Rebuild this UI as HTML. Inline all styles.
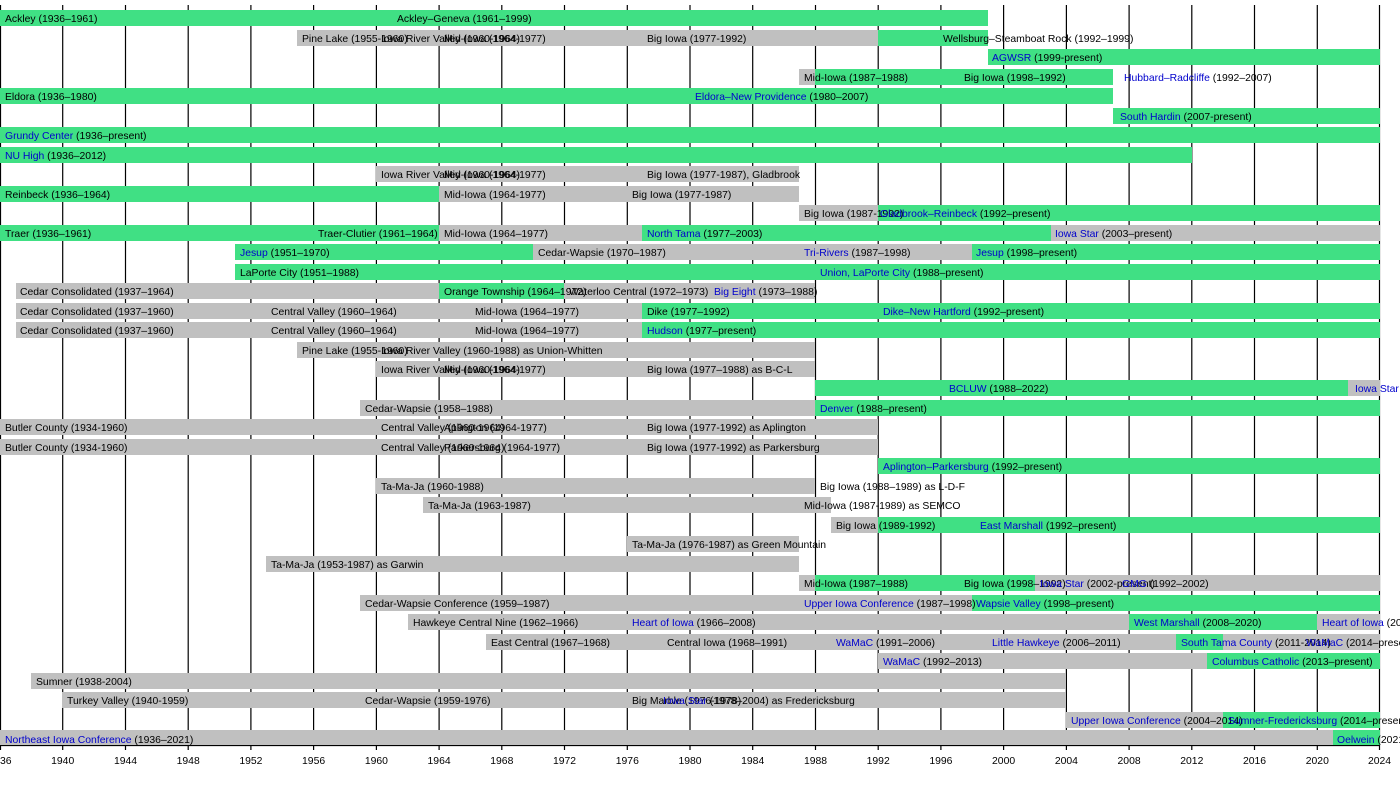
<!DOCTYPE html>
<html><head><meta charset="utf-8"><style>
html,body{margin:0;padding:0;background:#fff;overflow:hidden}
svg{display:block}
text{font-family:"Liberation Sans",Arial,sans-serif;font-size:10.4px;fill:#000}
.b{fill:#0000cc}
.g{fill:#40e084}
.r{fill:#c0c0c0}
</style></head><body>
<svg width="1400" height="795" viewBox="0 0 1400 795" xmlns="http://www.w3.org/2000/svg">
<g stroke="#000" stroke-width="1.2">
<line x1="0.5" y1="5" x2="0.5" y2="750"/>
<line x1="62.7" y1="5" x2="62.7" y2="750"/>
<line x1="125.5" y1="5" x2="125.5" y2="750"/>
<line x1="188.2" y1="5" x2="188.2" y2="750"/>
<line x1="250.9" y1="5" x2="250.9" y2="750"/>
<line x1="313.6" y1="5" x2="313.6" y2="750"/>
<line x1="376.4" y1="5" x2="376.4" y2="750"/>
<line x1="439.1" y1="5" x2="439.1" y2="750"/>
<line x1="501.8" y1="5" x2="501.8" y2="750"/>
<line x1="564.5" y1="5" x2="564.5" y2="750"/>
<line x1="627.3" y1="5" x2="627.3" y2="750"/>
<line x1="690" y1="5" x2="690" y2="750"/>
<line x1="752.7" y1="5" x2="752.7" y2="750"/>
<line x1="815.5" y1="5" x2="815.5" y2="750"/>
<line x1="878.2" y1="5" x2="878.2" y2="750"/>
<line x1="940.9" y1="5" x2="940.9" y2="750"/>
<line x1="1003.6" y1="5" x2="1003.6" y2="750"/>
<line x1="1066.4" y1="5" x2="1066.4" y2="750"/>
<line x1="1129.1" y1="5" x2="1129.1" y2="750"/>
<line x1="1191.8" y1="5" x2="1191.8" y2="750"/>
<line x1="1254.5" y1="5" x2="1254.5" y2="750"/>
<line x1="1317.3" y1="5" x2="1317.3" y2="750"/>
<line x1="1379.5" y1="5" x2="1379.5" y2="750"/>
<line x1="0" y1="745.5" x2="1380" y2="745.5"/>
</g>
<!-- bars -->
<rect class="g" x="0" y="10" width="988" height="16"/>
<rect class="r" x="297" y="30" width="581" height="16"/><rect class="g" x="878" y="30" width="110" height="16"/>
<rect class="g" x="988" y="49" width="392" height="16"/>
<rect class="r" x="799" y="69" width="16" height="16"/><rect class="g" x="815" y="69" width="298" height="16"/>
<rect class="g" x="0" y="88" width="1113" height="16"/>
<rect class="g" x="1113" y="108" width="267" height="16"/>
<rect class="g" x="0" y="127" width="1380" height="16"/>
<rect class="g" x="0" y="147" width="1192" height="16"/>
<rect class="r" x="376" y="166" width="423" height="16"/>
<rect class="g" x="0" y="186" width="439" height="16"/><rect class="r" x="439" y="186" width="360" height="16"/>
<rect class="r" x="799" y="205" width="79" height="16"/><rect class="g" x="878" y="205" width="502" height="16"/>
<rect class="g" x="0" y="225" width="439" height="16"/><rect class="r" x="439" y="225" width="203" height="16"/><rect class="g" x="642" y="225" width="409" height="16"/><rect class="r" x="1051" y="225" width="329" height="16"/>
<rect class="g" x="235" y="244" width="298" height="16"/><rect class="r" x="533" y="244" width="439" height="16"/><rect class="g" x="972" y="244" width="408" height="16"/>
<rect class="g" x="235" y="264" width="1145" height="16"/>
<rect class="r" x="16" y="283" width="423" height="16"/><rect class="g" x="439" y="283" width="125" height="16"/><rect class="r" x="564" y="283" width="251" height="16"/>
<rect class="r" x="16" y="303" width="626" height="16"/><rect class="g" x="642" y="303" width="738" height="16"/>
<rect class="r" x="16" y="322" width="626" height="16"/><rect class="g" x="642" y="322" width="738" height="16"/>
<rect class="r" x="297" y="342" width="518" height="16"/>
<rect class="r" x="376" y="361" width="439" height="16"/>
<rect class="g" x="815" y="380" width="533" height="16"/><rect class="r" x="1348" y="380" width="32" height="16"/>
<rect class="r" x="360" y="400" width="455" height="16"/><rect class="g" x="815" y="400" width="565" height="16"/>
<rect class="r" x="0" y="419" width="878" height="16"/>
<rect class="r" x="0" y="439" width="878" height="16"/>
<rect class="g" x="878" y="458" width="502" height="16"/>
<rect class="r" x="376" y="478" width="439" height="16"/>
<rect class="r" x="423" y="497" width="408" height="16"/>
<rect class="r" x="831" y="517" width="47" height="16"/><rect class="g" x="878" y="517" width="502" height="16"/>
<rect class="r" x="627" y="536" width="172" height="16"/>
<rect class="r" x="266" y="556" width="533" height="16"/>
<rect class="r" x="799" y="575" width="16" height="16"/><rect class="g" x="815" y="575" width="220" height="16"/><rect class="r" x="1035" y="575" width="345" height="16"/>
<rect class="r" x="360" y="595" width="612" height="16"/><rect class="g" x="972" y="595" width="408" height="16"/>
<rect class="r" x="408" y="614" width="721" height="16"/><rect class="g" x="1129" y="614" width="188" height="16"/><rect class="r" x="1317" y="614" width="63" height="16"/>
<rect class="r" x="486" y="634" width="690" height="16"/><rect class="g" x="1176" y="634" width="47" height="16"/><rect class="r" x="1223" y="634" width="157" height="16"/>
<rect class="r" x="878" y="653" width="329" height="16"/><rect class="g" x="1207" y="653" width="173" height="16"/>
<rect class="r" x="31" y="673" width="1035" height="16"/>
<rect class="r" x="62" y="692" width="1004" height="16"/>
<rect class="r" x="1066" y="712" width="157" height="16"/><rect class="g" x="1223" y="712" width="157" height="16"/>
<rect class="r" x="0" y="730" width="1333" height="15"/><rect class="g" x="1333" y="730" width="47" height="15"/>
<!-- labels -->
<text x="5" y="22">Ackley (1936–1961)</text><text x="397" y="22">Ackley–Geneva (1961–1999)</text>
<text x="302" y="42">Pine Lake (1955-1960)</text><text x="381" y="42">Iowa River Valley (1960-1964)</text><text x="444" y="42">Mid-Iowa (1964-1977)</text><text x="647" y="42">Big Iowa (1977-1992)</text><text x="943" y="42">Wellsburg–Steamboat Rock (1992–1999)</text>
<text x="992" y="61"><tspan class="b">AGWSR</tspan> (1999-present)</text>
<text x="804" y="81">Mid-Iowa (1987–1988)</text><text x="964" y="81">Big Iowa (1998–1992)</text><text x="1124" y="81"><tspan class="b">Hubbard–Radcliffe</tspan> (1992–2007)</text>
<text x="5" y="100">Eldora (1936–1980)</text><text x="695" y="100"><tspan class="b">Eldora–New Providence</tspan> (1980–2007)</text>
<text x="1120" y="120"><tspan class="b">South Hardin</tspan> (2007-present)</text>
<text x="5" y="139"><tspan class="b">Grundy Center</tspan> (1936–present)</text>
<text x="5" y="159"><tspan class="b">NU High</tspan> (1936–2012)</text>
<text x="381" y="178">Iowa River Valley (1960-1964)</text><text x="444" y="178">Mid-Iowa (1964-1977)</text><text x="647" y="178">Big Iowa (1977-1987), Gladbrook</text>
<text x="5" y="198">Reinbeck (1936–1964)</text><text x="444" y="198">Mid-Iowa (1964-1977)</text><text x="632" y="198">Big Iowa (1977-1987)</text>
<text x="804" y="217">Big Iowa (1987-1992)</text><text x="880" y="217"><tspan class="b">Gladbrook–Reinbeck</tspan> (1992–present)</text>
<text x="5" y="237">Traer (1936–1961)</text><text x="318" y="237">Traer-Clutier (1961–1964)</text><text x="444" y="237">Mid-Iowa (1964–1977)</text><text x="647" y="237"><tspan class="b">North Tama</tspan> (1977–2003)</text><text x="1055" y="237"><tspan class="b">Iowa Star</tspan> (2003–present)</text>
<text x="240" y="256"><tspan class="b">Jesup</tspan> (1951–1970)</text><text x="538" y="256">Cedar-Wapsie (1970–1987)</text><text x="804" y="256"><tspan class="b">Tri-Rivers</tspan> (1987–1998)</text><text x="976" y="256"><tspan class="b">Jesup</tspan> (1998–present)</text>
<text x="240" y="276">LaPorte City (1951–1988)</text><text x="820" y="276"><tspan class="b">Union, LaPorte City</tspan> (1988–present)</text>
<text x="20" y="295">Cedar Consolidated (1937–1964)</text><text x="444" y="295">Orange Township (1964–1972)</text><text x="569" y="295">Waterloo Central (1972–1973)</text><text x="714" y="295"><tspan class="b">Big Eight</tspan> (1973–1988)</text>
<text x="20" y="315">Cedar Consolidated (1937–1960)</text><text x="271" y="315">Central Valley (1960–1964)</text><text x="475" y="315">Mid-Iowa (1964–1977)</text><text x="647" y="315">Dike (1977–1992)</text><text x="883" y="315"><tspan class="b">Dike–New Hartford</tspan> (1992–present)</text>
<text x="20" y="334">Cedar Consolidated (1937–1960)</text><text x="271" y="334">Central Valley (1960–1964)</text><text x="475" y="334">Mid-Iowa (1964–1977)</text><text x="647" y="334"><tspan class="b">Hudson</tspan> (1977–present)</text>
<text x="302" y="354">Pine Lake (1955-1960)</text><text x="381" y="354">Iowa River Valley (1960-1988) as Union-Whitten</text>
<text x="381" y="373">Iowa River Valley (1960-1964)</text><text x="444" y="373">Mid-Iowa (1964-1977)</text><text x="647" y="373">Big Iowa (1977–1988) as B-C-L</text>
<text x="949" y="392"><tspan class="b">BCLUW</tspan> (1988–2022)</text><text x="1355" y="392"><tspan class="b">Iowa Star</tspan></text>
<text x="365" y="412">Cedar-Wapsie (1958–1988)</text><text x="820" y="412"><tspan class="b">Denver</tspan> (1988–present)</text>
<text x="5" y="431">Butler County (1934-1960)</text><text x="381" y="431">Central Valley (1960-1964)</text><text x="444" y="431">Aplington (1964-1977)</text><text x="647" y="431">Big Iowa (1977-1992) as Aplington</text>
<text x="5" y="451">Butler County (1934-1960)</text><text x="381" y="451">Central Valley (1960-1964)</text><text x="444" y="451">Parkersburg (1964-1977)</text><text x="647" y="451">Big Iowa (1977-1992) as Parkersburg</text>
<text x="883" y="470"><tspan class="b">Aplington–Parkersburg</tspan> (1992–present)</text>
<text x="381" y="490">Ta-Ma-Ja (1960-1988)</text><text x="820" y="490">Big Iowa (1988–1989) as L-D-F</text>
<text x="428" y="509">Ta-Ma-Ja (1963-1987)</text><text x="804" y="509">Mid-Iowa (1987-1989) as SEMCO</text>
<text x="836" y="529">Big Iowa (1989-1992)</text><text x="980" y="529"><tspan class="b">East Marshall</tspan> (1992–present)</text>
<text x="632" y="548">Ta-Ma-Ja (1976-1987) as Green Mountain</text>
<text x="271" y="568">Ta-Ma-Ja (1953-1987) as Garwin</text>
<text x="804" y="587">Mid-Iowa (1987–1988)</text><text x="964" y="587">Big Iowa (1998–1992)</text><text x="1040" y="587"><tspan class="b">Iowa Star</tspan> (2002-present)</text><text x="1122" y="587"><tspan class="b">GMG</tspan> (1992–2002)</text>
<text x="365" y="607">Cedar-Wapsie Conference (1959–1987)</text><text x="804" y="607"><tspan class="b">Upper Iowa Conference</tspan> (1987–1998)</text><text x="976" y="607"><tspan class="b">Wapsie Valley</tspan> (1998–present)</text>
<text x="413" y="626">Hawkeye Central Nine (1962–1966)</text><text x="632" y="626"><tspan class="b">Heart of Iowa</tspan> (1966–2008)</text><text x="1134" y="626"><tspan class="b">West Marshall</tspan> (2008–2020)</text><text x="1322" y="626"><tspan class="b">Heart of Iowa</tspan> (2020–present)</text>
<text x="491" y="646">East Central (1967–1968)</text><text x="667" y="646">Central Iowa (1968–1991)</text><text x="836" y="646"><tspan class="b">WaMaC</tspan> (1991–2006)</text><text x="992" y="646"><tspan class="b">Little Hawkeye</tspan> (2006–2011)</text><text x="1181" y="646"><tspan class="b">South Tama County</tspan> (2011-2014)</text><text x="1306" y="646"><tspan class="b">WaMaC</tspan> (2014–present)</text>
<text x="883" y="665"><tspan class="b">WaMaC</tspan> (1992–2013)</text><text x="1212" y="665"><tspan class="b">Columbus Catholic</tspan> (2013–present)</text>
<text x="36" y="685">Sumner (1938-2004)</text>
<text x="67" y="704">Turkey Valley (1940-1959)</text><text x="365" y="704">Cedar-Wapsie (1959-1976)</text><text x="632" y="704">Big Marble (1976-1978)</text><text x="663" y="704"><tspan class="b">Iowa Star</tspan> (1978–2004) as Fredericksburg</text>
<text x="1071" y="724"><tspan class="b">Upper Iowa Conference</tspan> (2004–2014)</text><text x="1228" y="724"><tspan class="b">Sumner-Fredericksburg</tspan> (2014–present)</text>
<text x="5" y="743"><tspan class="b">Northeast Iowa Conference</tspan> (1936–2021)</text><text x="1337" y="743"><tspan class="b">Oelwein</tspan> (2021–present)</text>
<!-- axis labels -->
<g text-anchor="middle">
<text x="0" y="764">1936</text><text x="62.7" y="764">1940</text><text x="125.5" y="764">1944</text><text x="188.2" y="764">1948</text><text x="250.9" y="764">1952</text><text x="313.6" y="764">1956</text><text x="376.4" y="764">1960</text><text x="439.1" y="764">1964</text><text x="501.8" y="764">1968</text><text x="564.5" y="764">1972</text><text x="627.3" y="764">1976</text><text x="690" y="764">1980</text><text x="752.7" y="764">1984</text><text x="815.5" y="764">1988</text><text x="878.2" y="764">1992</text><text x="940.9" y="764">1996</text><text x="1003.6" y="764">2000</text><text x="1066.4" y="764">2004</text><text x="1129.1" y="764">2008</text><text x="1191.8" y="764">2012</text><text x="1254.5" y="764">2016</text><text x="1317.3" y="764">2020</text><text x="1379.5" y="764">2024</text>
</g>
</svg>
</body></html>
